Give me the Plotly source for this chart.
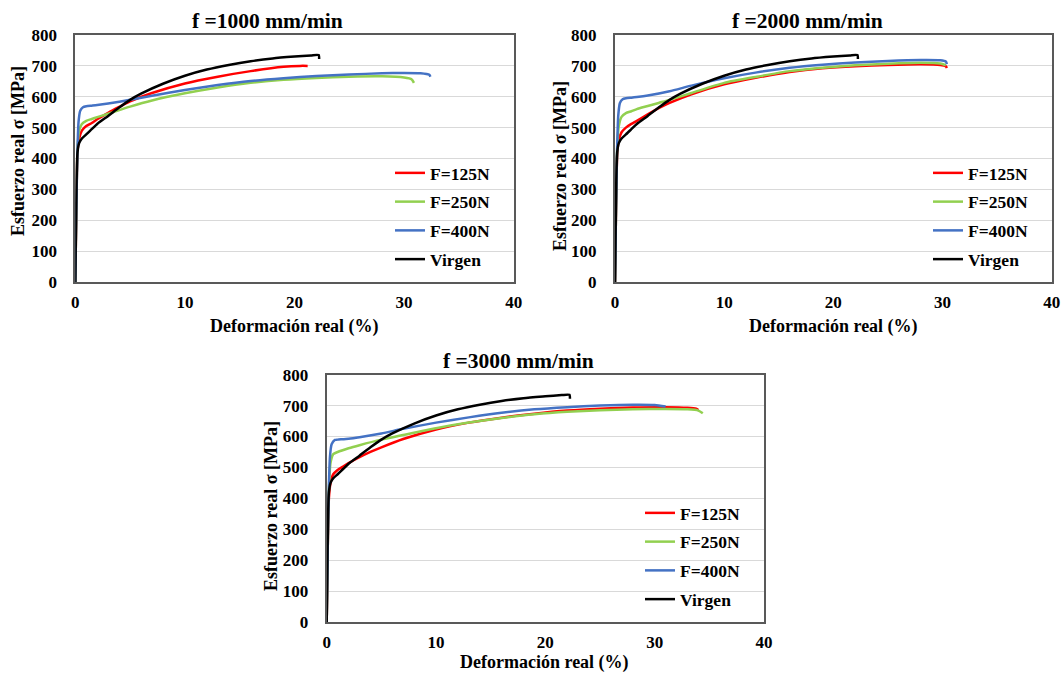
import plotly.graph_objects as go

W, H = 1063, 673

# ---------------- data ----------------
series_names = ["F=125N", "F=250N", "F=400N", "Virgen"]
series_colors = ["#FF0000", "#92D050", "#4472C4", "#000000"]
panel_titles = ["f =1000 mm/min", "f =2000 mm/min", "f =3000 mm/min"]
x_tick_vals = [0, 10, 20, 30, 40]
y_tick_vals = [0, 100, 200, 300, 400, 500, 600, 700, 800]
x_title = "Deformación real (%)"
y_title = "Esfuerzo real σ [MPa]"

# Virgen (same in every panel)
virgen_strain = [0, 0.05, 0.12, 0.2, 0.35, 0.6, 1.0, 1.5, 2, 3, 4, 5, 6, 8, 10, 12, 14, 16, 18, 20, 21.5, 22.2, 22.25]
virgen_stress = [0, 150, 330, 420, 450, 465, 478, 495, 512, 538, 565, 590, 610, 642, 668, 688, 703, 715, 724, 730, 734, 735, 722]

# f = 1000 mm/min
f1000_125_strain = [0, 0.1, 0.2, 0.35, 0.6, 1.0, 1.5, 2, 3, 4, 5, 7, 10, 13, 16, 19, 20.5, 21.2]
f1000_125_stress = [0, 250, 420, 465, 490, 505, 515, 527, 548, 567, 585, 612, 643, 665, 683, 697, 700, 700]
f1000_250_strain = [0, 0.1, 0.2, 0.35, 0.6, 1.0, 1.5, 2, 3, 5, 7, 10, 13, 16, 19, 22, 25, 28, 30, 30.7, 30.9]
f1000_250_stress = [0, 250, 430, 490, 512, 522, 528, 534, 545, 568, 588, 611, 630, 645, 655, 661, 665, 666, 662, 656, 645]
f1000_400_strain = [0, 0.1, 0.2, 0.3, 0.45, 0.7, 1.0, 1.5, 2, 3, 5, 7, 10, 13, 16, 19, 22, 25, 28, 30, 31.5, 32.3, 32.4]
f1000_400_stress = [0, 250, 430, 520, 555, 566, 569, 571, 573, 578, 590, 603, 622, 638, 651, 660, 667, 672, 676, 677, 676, 671, 665]

# f = 2000 mm/min
f2000_125_strain = [0, 0.1, 0.2, 0.35, 0.6, 1.0, 1.5, 2, 3, 4, 5, 7, 10, 13, 16, 19, 22, 25, 28, 29.8, 30.3, 30.4]
f2000_125_stress = [0, 250, 410, 460, 485, 500, 512, 522, 543, 563, 580, 608, 640, 662, 680, 692, 699, 703, 705, 703, 699, 693]
f2000_250_strain = [0, 0.1, 0.2, 0.35, 0.6, 1.0, 1.5, 2, 3, 4, 5, 7, 10, 13, 16, 19, 22, 25, 28, 29.8, 30.3]
f2000_250_stress = [0, 250, 430, 505, 535, 547, 553, 560, 570, 580, 590, 612, 645, 665, 683, 694, 702, 707, 710, 708, 702]
f2000_400_strain = [0, 0.1, 0.2, 0.3, 0.45, 0.7, 1.0, 1.5, 2, 3, 5, 7, 10, 13, 16, 19, 22, 25, 28, 29.8, 30.3, 30.4]
f2000_400_stress = [0, 250, 440, 540, 580, 592, 595, 597, 599, 604, 618, 636, 660, 679, 694, 704, 711, 716, 719, 718, 714, 706]

# f = 3000 mm/min
f3000_125_strain = [0, 0.1, 0.2, 0.35, 0.6, 1.0, 1.5, 2, 3, 4, 5, 7, 10, 13, 16, 19, 22, 25, 28, 31, 33, 33.8, 34.0]
f3000_125_stress = [0, 250, 400, 450, 478, 492, 503, 514, 533, 550, 565, 592, 623, 645, 661, 674, 684, 690, 694, 695, 693, 690, 686]
f3000_250_strain = [0, 0.1, 0.2, 0.35, 0.6, 1.0, 2, 3, 5, 7, 10, 13, 16, 19, 22, 25, 28, 31, 33, 34, 34.4]
f3000_250_stress = [0, 250, 430, 515, 543, 550, 562, 572, 590, 605, 627, 645, 660, 672, 680, 685, 688, 689, 688, 684, 675]
f3000_400_strain = [0, 0.1, 0.2, 0.3, 0.45, 0.75, 1.0, 2, 3, 5, 7, 10, 13, 16, 19, 22, 25, 28, 30, 31]
f3000_400_stress = [0, 250, 440, 535, 575, 589, 590, 593, 598, 610, 625, 645, 662, 677, 688, 695, 700, 703, 702, 697]

panels = [
    [(f1000_125_strain, f1000_125_stress), (f1000_250_strain, f1000_250_stress),
     (f1000_400_strain, f1000_400_stress), (virgen_strain, virgen_stress)],
    [(f2000_125_strain, f2000_125_stress), (f2000_250_strain, f2000_250_stress),
     (f2000_400_strain, f2000_400_stress), (virgen_strain, virgen_stress)],
    [(f3000_125_strain, f3000_125_stress), (f3000_250_strain, f3000_250_stress),
     (f3000_400_strain, f3000_400_stress), (virgen_strain, virgen_stress)],
]

# ---------------- layout geometry (pixels) ----------------
boxes = [  # left, right, top, bottom
    (75.3, 513.7, 35.0, 282.0),
    (615.0, 1051.7, 35.0, 282.0),
    (326.7, 764.0, 374.7, 622.0),
]
title_pos = [(267, 21), (807, 21), (518, 361)]
xtitle_pos = [(294, 326), (833, 326), (544, 662)]
ytitle_pos = [(18, 151), (560, 166), (271, 506)]
legend_pos = [(396, 173), (934, 173), (646, 513)]

FONT = "Liberation Serif"


def px(x):
    return x / W


def py(y):
    return 1 - y / H


fig = go.Figure()
layout = dict(
    width=W, height=H, autosize=False,
    margin=dict(l=0, r=0, t=0, b=0, pad=0),
    paper_bgcolor="white", plot_bgcolor="white",
    showlegend=True,
    annotations=[],
)

for i, curves in enumerate(panels):
    sfx = "" if i == 0 else str(i + 1)
    xa, ya = "x" + sfx, "y" + sfx
    lg = "legend" + sfx
    for j, (sx, sy) in enumerate(curves):
        fig.add_trace(go.Scatter(
            x=sx, y=sy, mode="lines", name=series_names[j],
            line=dict(color=series_colors[j], width=2.5, shape="spline", smoothing=0.6),
            xaxis=xa, yaxis=ya, legend=lg, legendgroup=f"g{i}_{j}",
            hoverinfo="skip",
        ))
    l, r, t, b = boxes[i]
    layout["xaxis" + sfx] = dict(
        domain=[px(l), px(r)], anchor=ya, range=[0, 40], tickvals=x_tick_vals,
        showgrid=False, zeroline=False, showline=True, mirror=True, automargin=False,
        linecolor="#595959", linewidth=2, ticks="", ticklabelstandoff=4,
        tickfont=dict(family=FONT, size=17, color="black", weight="bold"),
        fixedrange=True,
    )
    layout["yaxis" + sfx] = dict(
        domain=[py(b), py(t)], anchor=xa, range=[0, 800], tickvals=y_tick_vals,
        showgrid=True, gridcolor="#D9D9D9", gridwidth=1.2, zeroline=False,
        showline=True, mirror=True, linecolor="#595959", linewidth=2, automargin=False,
        ticks="", ticklabelstandoff=13,
        tickfont=dict(family=FONT, size=17, color="black", weight="bold"),
        fixedrange=True,
    )
    lx, ly = legend_pos[i]
    layout[lg] = dict(
        x=px(lx - 6), y=py(ly - 18), xanchor="left", yanchor="top",
        bgcolor="rgba(0,0,0,0)", borderwidth=0, tracegroupgap=3,
        font=dict(family=FONT, size=17.5, color="black", weight="bold"),
        traceorder="grouped",
    )
    tx, ty = title_pos[i]
    layout["annotations"].append(dict(
        text=panel_titles[i], x=px(tx), y=py(ty), xref="paper", yref="paper",
        showarrow=False, xanchor="center", yanchor="middle",
        font=dict(family=FONT, size=21.5, color="black", weight="bold"),
    ))
    xx, xy = xtitle_pos[i]
    layout["annotations"].append(dict(
        text=x_title, x=px(xx), y=py(xy), xref="paper", yref="paper",
        showarrow=False, xanchor="center", yanchor="middle",
        font=dict(family=FONT, size=18, color="black", weight="bold"),
    ))
    yx, yy = ytitle_pos[i]
    layout["annotations"].append(dict(
        text=y_title, x=px(yx), y=py(yy), xref="paper", yref="paper",
        showarrow=False, xanchor="center", yanchor="middle", textangle=-90,
        font=dict(family=FONT, size=18, color="black", weight="bold"),
    ))

fig.update_layout(**layout)
fig.write_html(
    "out.html",
    config={"displayModeBar": False},
    post_script="document.body.style.margin='0';document.body.style.overflow='hidden';",
)
